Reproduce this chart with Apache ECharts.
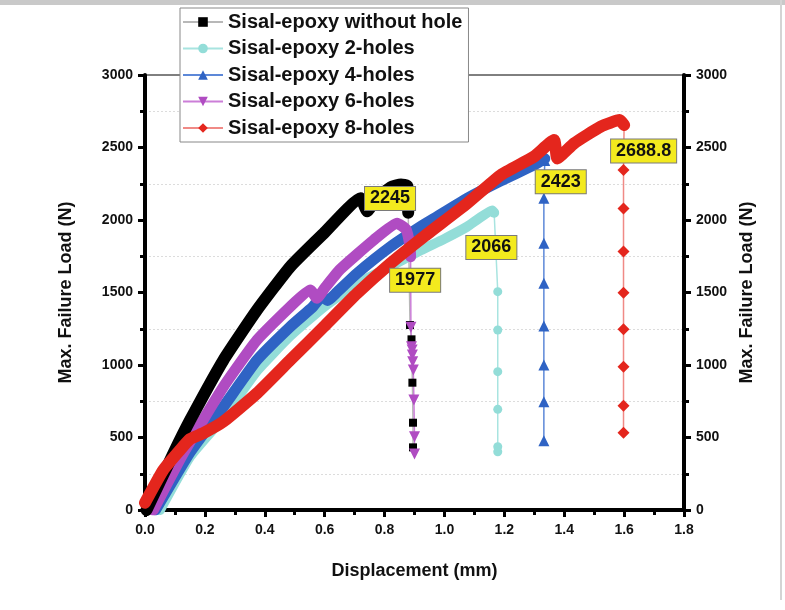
<!DOCTYPE html>
<html>
<head>
<meta charset="utf-8">
<script src="https://cdn.jsdelivr.net/npm/echarts@6/dist/echarts.min.js"></script>
<style>
  html, body { margin: 0; padding: 0; background: #fff; }
  #chart { width: 785px; height: 610px; }
</style>
</head>
<body>
<div id="chart"></div>
<script>
// series names, in legend order
const names = [
    "Sisal-epoxy without hole",
    "Sisal-epoxy 2-holes",
    "Sisal-epoxy 4-holes",
    "Sisal-epoxy 6-holes",
    "Sisal-epoxy 8-holes"
];

// loading curves [displacement mm, load N]
const curveNoHole = [[0.005,0],[0.095,391],[0.151,621],[0.262,1034],[0.374,1379],[0.485,1678],[0.597,1908],[0.72,2150],[0.742,2060],[0.77,2140],[0.82,2225],[0.855,2245],[0.876,2235],[0.879,2050]];
const curve2Holes = [[0.05,0],[0.151,370],[0.262,640],[0.374,960],[0.485,1200],[0.597,1400],[0.708,1560],[0.82,1680],[0.92,1790],[1.0,1870],[1.076,1954],[1.16,2066],[1.166,2050]];
const curve4Holes = [[0.035,0],[0.151,400],[0.262,712],[0.374,1034],[0.485,1264],[0.56,1400],[0.59,1470],[0.61,1445],[0.64,1500],[0.708,1632],[0.82,1816],[0.92,1954],[0.965,2010],[1.076,2150],[1.188,2270],[1.3,2380],[1.335,2423]];
const curve6Holes = [[0.028,0],[0.128,391],[0.262,850],[0.374,1172],[0.485,1402],[0.552,1517],[0.574,1460],[0.6,1530],[0.652,1660],[0.764,1862],[0.842,1977],[0.872,1935],[0.885,1820],[0.887,1747]];
const curve8Holes = [[0.0,50],[0.061,276],[0.117,414],[0.151,490],[0.195,530],[0.262,610],[0.374,805],[0.485,1034],[0.597,1264],[0.708,1494],[0.82,1701],[0.931,1885],[1.076,2115],[1.188,2310],[1.299,2437],[1.366,2552],[1.377,2425],[1.433,2529],[1.522,2644],[1.585,2688.8],[1.6,2655]];

// failure drop after the peak
const dropNoHole = [[0.879,2050],[0.885,1276],[0.89,1177],[0.893,878],[0.895,602],[0.895,432]];
const drop2Holes = [[1.166,2050],[1.178,1506],[1.178,1241],[1.178,954],[1.178,694],[1.178,437],[1.178,402]];
const drop4Holes = [[1.335,2410],[1.332,2150],[1.332,1839],[1.332,1563],[1.332,1269],[1.332,1000],[1.332,747],[1.332,478]];
const drop6Holes = [[0.887,1747],[0.888,1260],[0.89,1126],[0.892,1103],[0.893,1069],[0.894,1023],[0.896,966],[0.898,759],[0.9,506],[0.9,386]];
const drop8Holes = [[1.6,2655],[1.598,2345],[1.598,2080],[1.598,1782],[1.598,1499],[1.598,1246],[1.598,988],[1.598,719],[1.598,533]];

const xTicks = { min: 0, max: 1.8, step: 0.2 };
const yTicks = { min: 0, max: 3000, step: 500 };

const FONT = "Liberation Sans, Arial, Helvetica, sans-serif";

const styles = [
    { color: "#000000", line: "#b8b8b8", symbol: "rect", size: 8, rotate: 0, width: 12, offset: [-11, 14] },
    { color: "#93ddd8", line: "#a8e4e0", symbol: "circle", size: 9, rotate: 0, width: 10, offset: [-1, 37] },
    { color: "#2f63c4", line: "#5d88d8", symbol: "triangle", size: 11, rotate: 0, width: 11, offset: [16, 23] },
    { color: "#b04cc2", line: "#cc7ed8", symbol: "triangle", size: 11, rotate: 180, width: 11, offset: [18, 57] },
    { color: "#e4261d", line: "#f08a86", symbol: "diamond", size: 12, rotate: 0, width: 12, offset: [24, 31] }
];
const curves = [curveNoHole, curve2Holes, curve4Holes, curve6Holes, curve8Holes];
const drops = [dropNoHole, drop2Holes, drop4Holes, drop6Holes, drop8Holes];

const valueLabel = {
    show: true,
    position: "inside",
    formatter: p => String(p.value),
    backgroundColor: "#f3ea1e",
    borderColor: "#7a7a7a",
    borderWidth: 1,
    padding: [3, 5, 2, 5],
    color: "#111",
    fontFamily: FONT,
    fontWeight: "bold",
    fontSize: 18
};

const series = [];
// drop series first so the legend picks their thin line + marker look
drops.forEach((d, i) => {
    const s = styles[i];
    series.push({
        name: names[i],
        type: "line",
        data: d,
        symbol: s.symbol,
        symbolSize: s.size,
        symbolRotate: s.rotate,
        showAllSymbol: true,
        itemStyle: { color: s.color },
        lineStyle: { color: s.line, width: 1.5 },
        silent: true,
        z: 2
    });
});
// drawing order of the thick loading bands (red ends up on top)
[1, 2, 3, 0, 4].forEach(i => {
    const s = styles[i];
    series.push({
        name: names[i],
        type: "line",
        data: curves[i],
        showSymbol: false,
        smooth: 0.15,
        itemStyle: { color: s.color },
        lineStyle: { color: s.color, width: s.width, cap: "round", join: "round" },
        silent: true,
        z: 3,
        markPoint: {
            symbol: "rect",
            symbolSize: 1,
            itemStyle: { color: "rgba(0,0,0,0)" },
            label: Object.assign({ offset: s.offset }, valueLabel),
            data: [{ type: "max", valueDim: "y" }],
            z: 10
        }
    });
});

const axisLabel = { fontFamily: FONT, fontWeight: "bold", fontSize: 14, color: "#111" };
const nameStyle = { fontFamily: FONT, fontWeight: "bold", fontSize: 18, color: "#111" };

function yAxis(pos) {
    return {
        type: "value",
        position: pos,
        min: yTicks.min,
        max: yTicks.max,
        interval: yTicks.step,
        name: "Max. Failure Load (N)",
        nameLocation: "middle",
        nameRotate: 90,
        nameGap: pos === "left" ? 70 : 52,
        nameTextStyle: nameStyle,
        axisLine: { show: true, lineStyle: { color: "#000", width: 4 } },
        axisTick: { show: true, length: 7, lineStyle: { color: "#000", width: 3 } },
        minorTick: { show: true, splitNumber: 2, length: 5, lineStyle: { color: "#000", width: 3 } },
        axisLabel: Object.assign({ margin: 12, formatter: v => String(v) }, axisLabel),
        splitLine: { show: false },
        minorSplitLine: pos === "left"
            ? { show: true, lineStyle: { color: "#dcdcdc", width: 1, type: [2, 2] } }
            : { show: false }
    };
}

const option = {
    animation: false,
    backgroundColor: "#ffffff",
    textStyle: { fontFamily: FONT },
    grid: { left: 145, right: 101, top: 75, bottom: 100, show: true, borderColor: "#000", borderWidth: 1 },
    legend: {
        data: names,
        orient: "vertical",
        left: 180,
        top: 8,
        itemWidth: 40,
        itemHeight: 12,
        itemGap: 6.5,
        padding: [4, 6, 4, 2],
        backgroundColor: "#ffffff",
        borderColor: "#888",
        borderWidth: 1,
        borderRadius: 0,
        selectedMode: false,
        textStyle: { fontFamily: FONT, fontWeight: "bold", fontSize: 20, color: "#111" }
    },
    xAxis: {
        type: "value",
        min: xTicks.min,
        max: xTicks.max,
        interval: xTicks.step,
        name: "Displacement (mm)",
        nameLocation: "middle",
        nameGap: 52,
        nameTextStyle: nameStyle,
        axisLine: { show: true, onZero: false, lineStyle: { color: "#000", width: 4 } },
        axisTick: { show: true, length: 7, lineStyle: { color: "#000", width: 3 } },
        minorTick: { show: true, splitNumber: 2, length: 5, lineStyle: { color: "#000", width: 3 } },
        axisLabel: Object.assign({ margin: 13, formatter: v => v.toFixed(1) }, axisLabel),
        splitLine: { show: false }
    },
    yAxis: [yAxis("left"), yAxis("right")],
    graphic: [
        { type: "rect", shape: { x: 0, y: 0, width: 785, height: 5 }, style: { fill: "#c9c9c9" }, silent: true },
        { type: "rect", shape: { x: 780, y: 0, width: 2, height: 600 }, style: { fill: "#d4d4d4" }, silent: true }
    ],
    series: series
};

const initChart = () => {
    const chartElement = document.getElementById("chart");
    if (chartElement) {
        const chart = echarts.init(chartElement, null, { renderer: "canvas" });
        chart.setOption(option);
    }
};

window.addEventListener("load", initChart);
</script>
</body>
</html>
